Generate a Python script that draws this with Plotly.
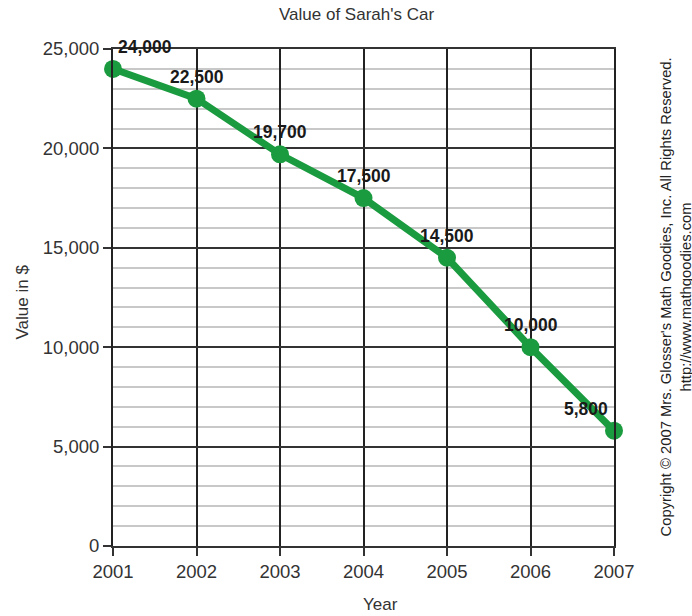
import plotly.graph_objects as go

years = [2001, 2002, 2003, 2004, 2005, 2006, 2007]
values = [24000, 22500, 19700, 17500, 14500, 10000, 5800]
label_xshift = [32, 0, 0, 0, 0, 0, -28]

title_text = "Value of Sarah's Car"
x_title = "Year"
y_title = "Value in $"
copyright_lines = ["Copyright \u00a9 2007 Mrs. Glosser's Math Goodies, Inc. All Rights Reserved.",
                   "http://www.mathgoodies.com"]
copyright_xshift = [51, 71]

green = "#1b9b3f"
font_family = "Liberation Sans, Arial, sans-serif"

fig = go.Figure()
fig.add_trace(go.Scatter(
    x=years, y=values, mode="lines+markers",
    line=dict(color=green, width=7),
    marker=dict(color=green, size=18),
    cliponaxis=False, hoverinfo="skip", showlegend=False,
))

for yr, v, dx in zip(years, values, label_xshift):
    fig.add_annotation(x=yr, y=v, text=f"<b>{v:,}</b>", showarrow=False,
                       xshift=dx, yshift=22,
                       font=dict(family=font_family, size=17.5, color="#1a1a1a"))

for line, dx in zip(copyright_lines, copyright_xshift):
    fig.add_annotation(xref="paper", yref="paper", x=1.0, y=0.5, xanchor="center", yanchor="middle",
                       xshift=dx, textangle=-90, showarrow=False,
                       text=line, font=dict(family=font_family, size=14.8, color="#222"))

# titles
fig.add_annotation(xref="paper", yref="paper", x=0.486, y=1.0, yshift=35, showarrow=False,
                   text=title_text, xanchor="center", yanchor="middle",
                   font=dict(family=font_family, size=17, color="#333"))
fig.add_annotation(xref="paper", yref="paper", x=0.534, y=0.0, yshift=-58, showarrow=False,
                   text=x_title, xanchor="center", yanchor="middle",
                   font=dict(family=font_family, size=17, color="#333"))
fig.add_annotation(xref="paper", yref="paper", x=0.0, y=0.49, xshift=-91, showarrow=False,
                   text=y_title, xanchor="center", yanchor="middle", textangle=-90,
                   font=dict(family=font_family, size=17, color="#333"))

fig.update_layout(
    width=692, height=616,
    margin=dict(l=113, r=78, t=49, b=70, autoexpand=False),
    paper_bgcolor="white", plot_bgcolor="white",
    font=dict(family=font_family, color="#333"),
    xaxis=dict(range=[2001, 2007], tickmode="array", tickvals=years,
               ticktext=[str(y) for y in years], automargin=False,
               showgrid=True, gridcolor="#222", gridwidth=1.5,
               ticks="outside", ticklen=8, tickcolor="#333", tickwidth=1.5,
               showline=True, linecolor="#333", linewidth=2, mirror=True,
               zeroline=False,
               tickfont=dict(size=18.5, color="#333")),
    yaxis=dict(range=[0, 25000], tickmode="linear", tick0=0, dtick=5000, tickformat=",",
               automargin=False,
               showgrid=True, gridcolor="#333", gridwidth=1.5,
               minor=dict(dtick=1000, showgrid=True, gridcolor="#c8c8c8", gridwidth=1.5),
               ticks="outside", ticklen=8, tickcolor="#333", tickwidth=1.5,
               showline=True, linecolor="#222", linewidth=2, mirror=True,
               zeroline=False,
               tickfont=dict(size=18.5, color="#333")),
)

fig.write_html("out.html", config={"displayModeBar": False},
               post_script="document.body.style.margin='0';document.body.style.padding='0';")
